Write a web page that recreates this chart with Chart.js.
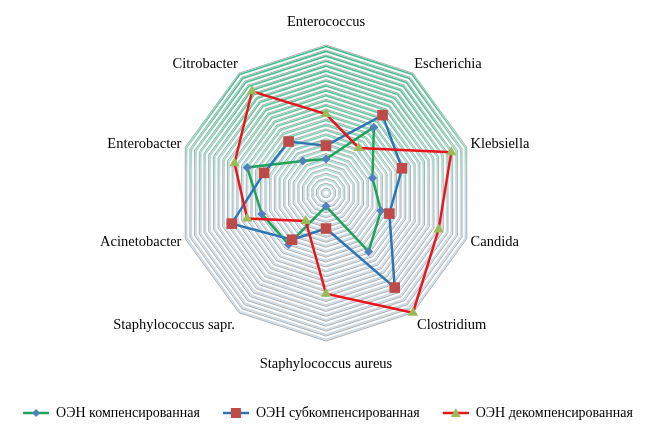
<!DOCTYPE html>
<html>
<head>
<meta charset="utf-8">
<script src="https://cdn.jsdelivr.net/npm/chart.js@4.4.1/dist/chart.umd.min.js"></script>
<style>
  html, body { margin: 0; padding: 0; background: #fff; }
  #wrap { width: 652px; height: 425px; position: relative; }
</style>
</head>
<body>
<div id="wrap"><canvas id="radarChart"></canvas></div>
<script>
const categories = ['Enterococcus', 'Escherichia', 'Klebsiella', 'Candida', 'Clostridium',
    'Staphylococcus aureus', 'Staphylococcus sapr.', 'Acinetobacter', 'Enterobacter', 'Citrobacter'];
const seriesNames = ['ОЭН компенсированная', 'ОЭН субкомпенсированная', 'ОЭН декомпенсированная'];
const compensated = [6.9, 16.5, 9.9, 11.7, 14.7, 2.7, 12.9, 13.7, 16.8, 8.0];
const subcompensated = [9.6, 19.5, 16.2, 13.5, 23.7, 7.2, 11.7, 20.1, 13.2, 12.9];
const decompensated = [16.0, 11.3, 26.7, 24.0, 30, 20.4, 7.0, 16.8, 19.5, 25.5];
const scaleMax = 30;

const lineColors = ['#1fa35a', '#2e75b6', '#e8161c'];
const markerColors = ['#4f81bd', '#be4b48', '#9bbb59'];
const markerStyles = ['rectRot', 'rect', 'triangle'];
const markerRadius = [4.5, 7.5, 6];

// label placement around the web: gap from the outer ring and line box height
const labelPadding = [5, 2, 4, 4, 7, 5, 7, 4, 4, 2];
const labelLineHeight = [36, 15, 3, 4, 13, 36, 13, 4, 3, 15];

// line + marker icon for the legend (left part is spacing)
function makeLegendIcon(i) {
    const c = document.createElement('canvas');
    c.width = 30; c.height = 14;
    const g = c.getContext('2d');
    g.strokeStyle = lineColors[i];
    g.lineWidth = 2.5;
    g.beginPath(); g.moveTo(4, 7); g.lineTo(30, 7); g.stroke();
    g.fillStyle = markerColors[i];
    g.beginPath();
    if (i === 0) {
        g.moveTo(17, 3); g.lineTo(21, 7); g.lineTo(17, 11); g.lineTo(13, 7);
    } else if (i === 1) {
        g.rect(12, 2, 10, 10);
    } else {
        g.moveTo(17, 2); g.lineTo(22, 11); g.lineTo(12, 11);
    }
    g.closePath(); g.fill();
    return c;
}
const legendIcons = [0, 1, 2].map(makeLegendIcon);

// each ring: a grey edge with a tinted line just inside it
function ringTicks(scale) {
    const t = [];
    for (let v = 0; v <= scaleMax; v++) {
        if (v > 0) t.push({ value: v - 0.3 });
        t.push({ value: v });
    }
    scale.ticks = t;
}

function ringColor(ctx) {
    const scale = ctx.scale;
    const v = ctx.tick ? ctx.tick.value : 0;
    if (Number.isInteger(v)) return 'rgba(140,140,140,0.7)';
    if (!scale || !scale.drawingArea) return '#c3d3e2';
    const top = scale.yCenter - scale.drawingArea;
    const bottom = scale.yCenter + scale.drawingArea;
    const grad = ctx.chart.ctx.createLinearGradient(0, top, 0, bottom);
    grad.addColorStop(0, '#2fbf86');
    grad.addColorStop(0.25, '#66d0a6');
    grad.addColorStop(0.42, '#b3e2da');
    grad.addColorStop(0.55, '#c8dbe8');
    grad.addColorStop(1, '#cbd9e6');
    return grad;
}

// push the legend row a little lower inside its box
const legendNudge = {
    id: 'legendNudge',
    afterLayout(chart) {
        if (chart.legend) {
            chart.legend.top += 5;
            chart.legend.bottom += 5;
        }
    }
};

const datasets = [compensated, subcompensated, decompensated].map((values, i) => ({
    label: seriesNames[i],
    data: values,
    borderColor: lineColors[i],
    borderWidth: 2.5,
    backgroundColor: markerColors[i],
    pointBackgroundColor: markerColors[i],
    pointBorderColor: markerColors[i],
    pointBorderWidth: 0,
    pointStyle: markerStyles[i],
    pointRadius: markerRadius[i],
    fill: false,
    tension: 0,
    order: 3 - i
}));

new Chart(document.getElementById('radarChart'), {
    type: 'radar',
    data: { labels: categories, datasets: datasets },
    plugins: [legendNudge],
    options: {
        responsive: true,
        maintainAspectRatio: false,
        animation: false,
        layout: { padding: { top: 4 } },
        plugins: {
            tooltip: { enabled: false },
            legend: {
                position: 'bottom',
                labels: {
                    usePointStyle: true,
                    pointStyleWidth: 30,
                    padding: 19,
                    color: '#000',
                    font: { family: 'Liberation Serif', size: 14 },
                    generateLabels: (chart) => chart.data.datasets.map((ds, i) => ({
                        text: ds.label,
                        pointStyle: legendIcons[i],
                        fillStyle: 'transparent',
                        strokeStyle: 'transparent',
                        lineWidth: 0,
                        fontColor: '#000',
                        hidden: false,
                        datasetIndex: i
                    }))
                }
            }
        },
        scales: {
            r: {
                min: 0,
                max: scaleMax,
                afterBuildTicks: ringTicks,
                ticks: { display: false },
                angleLines: { display: false },
                grid: {
                    color: ringColor,
                    lineWidth: (ctx) => (ctx.tick && Number.isInteger(ctx.tick.value)) ? 1 : 1.6
                },
                pointLabels: {
                    color: '#000',
                    padding: (ctx) => labelPadding[ctx.index],
                    font: (ctx) => ({
                        family: 'Liberation Serif',
                        size: 14.5,
                        lineHeight: labelLineHeight[ctx.index] + 'px'
                    })
                }
            }
        }
    }
});
</script>
</body>
</html>
